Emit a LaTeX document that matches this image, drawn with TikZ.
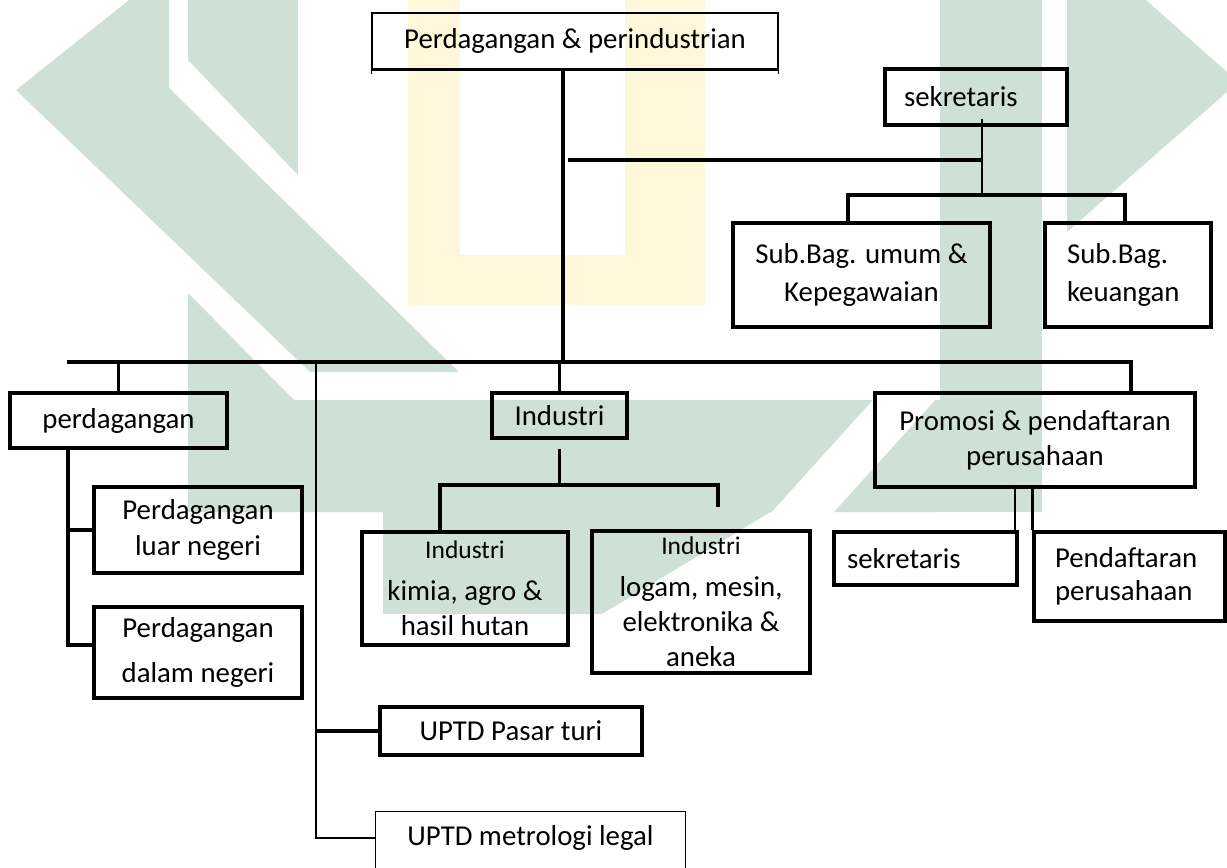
\documentclass[tikz,border=0pt]{standalone}
\usepackage{fontspec}
\setmainfont{Carlito}
\usepackage{xcolor}
\definecolor{markgreen}{HTML}{CFE1D6}
\definecolor{markyellow}{HTML}{FFF7D9}
\tikzset{
  unit/.style={draw, line width=1.9pt, inner sep=0pt, align=center, font=\fontsize{16.4}{20}\selectfont},
  headunit/.style={unit, line width=0.7pt},
  plainunit/.style={inner sep=0pt, align=center, font=\fontsize{16.4}{20}\selectfont},
  link/.style={line width=1.9pt},
  hair/.style={line width=0.7pt},
}
\newcommand{\smalltag}[1]{{\fontsize{14.5}{17}\selectfont #1}}

\begin{document}
\begin{tikzpicture}[x=0.02cm, y=-0.02cm]
\useasboundingbox (0,0) rectangle (1227,867);
\clip (0,0) rectangle (1227,867);
% watermark
\fill[markyellow] (408,0) rectangle (460,305);
\fill[markyellow] (625,0) rectangle (705,305);
\fill[markyellow] (408,255) rectangle (705,305);
\fill[markgreen] (129,0) -- (169,0) -- (169,88) -- (459,372) -- (310,372) -- (16,90) -- cycle;
\fill[markgreen] (188,0) -- (298,0) -- (298,175) -- (188,60) -- cycle;
\fill[markgreen] (188,293) -- (294,400) -- (940,400) -- (940,512) -- (188,512) -- cycle;
\fill[markgreen] (383,505) -- (383,614) -- (602,614) -- (782,505) -- cycle;
\fill[white] (770,514) -- (832,514) -- (935,400) -- (873,400) -- cycle;
\fill[markgreen] (940,0) rectangle (1042,512);
\fill[markgreen] (1067,0) -- (1146,0) -- (1227,72) -- (1227,92) -- (1067,232) -- cycle;

% boxes
\node[headunit, minimum width=8.12cm, minimum height=1.12cm] (head) at (575,41) {Perdagangan \& perindustrian};
\node[unit, align=left, text width=2.88cm, inner xsep=0.38cm, minimum height=1.12cm] (sec) at (976,97) {sekretaris};
\node[unit, minimum width=5.14cm, minimum height=2.08cm] (umum) at (861.5,275) {Sub.Bag. umum \&\\[1.5pt] Kepegawaian};
\node[unit, align=left, text width=2.44cm, inner xsep=0.44cm, minimum height=2.08cm] (keu) at (1128,275) {Sub.Bag.\\[1.5pt] keuangan};
\node[unit, minimum width=4.34cm, minimum height=1.1cm] (trade) at (118.5,420.5) {perdagangan};
\node[unit, minimum width=4.16cm, minimum height=1.72cm] (luar) at (198,530) {Perdagangan\\ luar negeri};
\node[unit, minimum width=4.16cm, minimum height=1.82cm] (dalam) at (198,652.5) {Perdagangan\\[5.5pt] dalam negeri};
\node[unit, minimum width=2.7cm, minimum height=0.9cm] (industry) at (559.5,415.5) {Industri};
\node[unit, minimum width=4.12cm, minimum height=2.26cm] (kimia) at (465,588.5) {\smalltag{Industri}\\[4pt] kimia, agro \&\\ hasil hutan};
\node[unit, minimum width=4.36cm, minimum height=2.84cm] (logam) at (701,602) {\smalltag{Industri}\\[4pt] logam, mesin,\\ elektronika \&\\ aneka};
\node[unit, minimum width=6.4cm, minimum height=1.88cm] (promo) at (1035,440) {Promosi \& pendaftaran\\ perusahaan};
\node[unit, align=left, text width=3.14cm, inner xsep=0.26cm, minimum height=1.06cm] (sec2) at (925.5,558.5) {sekretaris};
\node[unit, align=left, text width=2.98cm, inner xsep=0.42cm, minimum height=1.78cm] (daftar) at (1129.5,576.5) {Pendaftaran\\[-1.3pt] perusahaan};
\node[unit, minimum width=5.24cm, minimum height=0.96cm] (pasar) at (511,731) {UPTD Pasar turi};
\node[plainunit, minimum width=6.18cm, minimum height=1.04cm] (metro) at (530.5,838) {UPTD metrologi legal};

% junctions
\coordinate (trunk) at (563,362);
\coordinate (busL) at (67,362);
\coordinate (busR) at (1131,362);
\coordinate (uptd) at (316,362);
\coordinate (sekh) at (982,160);
\coordinate (sekv) at (982,195);
\coordinate (subL) at (848,195);
\coordinate (subR) at (1125,195);
\coordinate (tradeline) at (68,645);
\coordinate (indL) at (440,485);
\coordinate (indR) at (718,485);
\coordinate (prsec) at (1015,532);

% connectors
\draw[link] (head.south west) -- (head.south east);
\draw[hair] (head.south west) -- ++(0,4);
\draw[hair] (head.south east) -- ++(0,4);
\draw[link] (head.south -| trunk) -- (trunk);
\draw[link] (busL) -- (busR) -- (busR |- promo.north);
\draw[link] (trade.north |- busL) -- (trade.north);
\draw[link] (industry.north |- busL) -- (industry.north);
\draw[link] (sekh -| trunk) ++(5,0) -- (sekh);
\draw[hair] (sekv) -- (sekv |- sec.south) -- ++(0,-8);
\draw[link] (subL |- umum.north) -- (subL) -- (subR) -- (subR |- keu.north);
\draw[link] (trade.south -| tradeline) -- (tradeline) -- (tradeline -| dalam.west);
\draw[link] (luar.west -| tradeline) -- (luar.west);
\draw[link] (industry.south) ++(0,9) -- (industry.south |- indL);
\draw[link] (indL |- kimia.north) -- (indL) -- (indR) -- ++(0,22);
\draw[hair] (prsec |- promo.south) ++(0,-4) -- (prsec);
\draw[link] (daftar.north west |- promo.south) -- (daftar.north west);
\draw[hair] (uptd) -- (uptd |- metro.west) -- (metro.west);
\draw[link] (uptd |- pasar.west) -- (pasar.west);
\draw[hair] (metro.south west) ++(0,40) -- (metro.north west) -- (metro.north east) -- ++(0,100);
\end{tikzpicture}
\end{document}
